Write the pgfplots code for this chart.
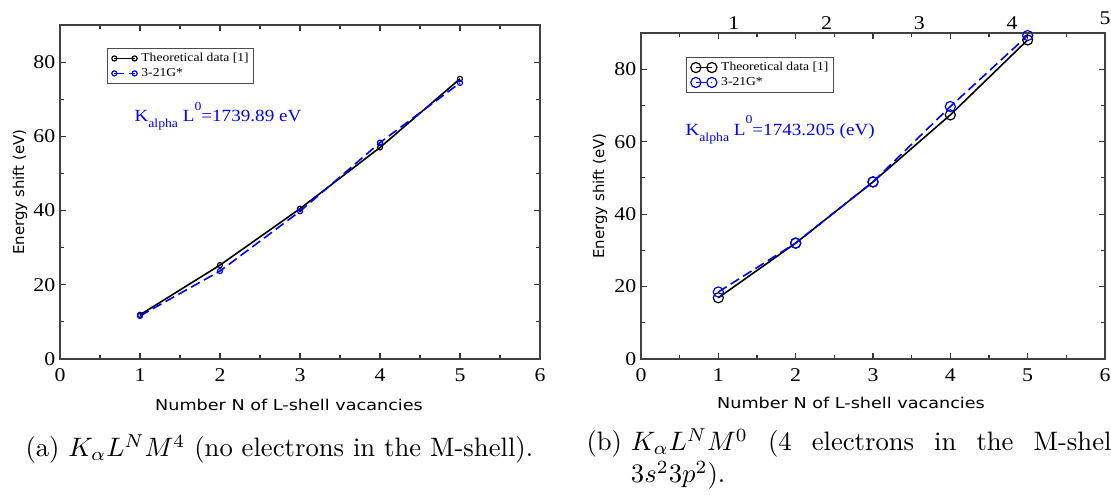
\documentclass[border=0pt]{standalone}
\usepackage{pgfplots}
\pgfplotsset{compat=1.18}
\usepackage{fontspec}
\newfontfamily\tnr[FakeStretch=1.12]{Liberation Serif}
\newfontfamily\dvs[FakeStretch=1.18]{DejaVu Sans}
\newfontfamily\dvsr{DejaVu Sans}
\definecolor{gblue}{RGB}{0,0,255}

\pgfplotstableread{
x y
1 11.9
2 25.3
3 40.5
4 57.0
5 75.5
}\theoA
\pgfplotstableread{
x y
1 11.6
2 23.7
3 39.8
4 58.3
5 74.4
}\calcA
\pgfplotstableread{
x y
1 16.9
2 32.0
3 48.9
4 67.4
5 88.1
}\theoB
\pgfplotstableread{
x y
1 18.5
2 32.0
3 48.9
4 69.7
5 89.3
}\calcB

\pgfplotsset{
  gstyle/.style={
    scale only axis, xmin=0, xmax=6, ymin=0, ymax=90,
    xtick={0,...,6}, ytick={0,20,...,80},
    minor x tick num=1, minor y tick num=1,
    major tick length=2.4pt, minor tick length=1.5pt,
    tick style={black!80, line width=0.4pt},
    axis line style={black!75, line width=0.5pt},
    ticklabel style={font=\tnr\fontsize{7.3}{8}\selectfont},
    /pgf/number format/assume math mode=true,
    yticklabel style={inner xsep=1.6pt},
    clip=false,
    legend cell align=left,
    legend style={draw=black!70, line width=0.4pt,
      font=\tnr\fontsize{4.55}{5.6}\selectfont,
      inner xsep=1.6pt, inner ysep=0.9pt, row sep=0pt, column sep=1.2pt,
      nodes={inner xsep=0.4pt, inner ysep=0.5pt, text height=3.4pt, text depth=1.2pt}},
  },
  theo/.style={black, line width=0.6pt, mark=o, mark options={solid, line width=0.45pt}},
  calc/.style={gblue, line width=0.6pt, dash pattern=on 3.7pt off 1.8pt, mark=o, mark options={solid, line width=0.45pt}},
}

\begin{document}
\begin{tikzpicture}
% ---------- left panel ----------
\begin{axis}[gstyle, at={(22.5pt,-134.625pt)}, anchor=south west,
  width=180pt, height=125.25pt,
  legend style={at={(axis description cs:0.098,0.931)}, anchor=north west},
  legend image code/.code={\draw[mark repeat=2, mark phase=1, #1] plot coordinates {(0pt,0pt) (3.8pt,0pt) (7.6pt,0pt)};},
  every axis plot/.append style={mark size=0.95pt}]
\addplot[theo] table[x=x,y=y] {\theoA};
\addlegendentry{Theoretical data [1]}
\addplot[calc] table[x=x,y=y] {\calcA};
\addlegendentry{3-21G*}
\node[anchor=base west, text=gblue, inner sep=0, font=\tnr\fontsize{6.4}{7}\selectfont]
  at (axis cs:0.925,63.9) {K\raisebox{-2.2pt}{\fontsize{4.6}{5}\selectfont alpha} L\raisebox{4.2pt}{\fontsize{4.6}{5}\selectfont 0}=1739.89 eV};
\end{axis}
% ---------- right panel ----------
\begin{axis}[gstyle, at={(240.375pt,-134.625pt)}, anchor=south west,
  width=174pt, height=122.25pt,
  legend style={at={(axis description cs:0.097,0.926)}, anchor=north west},
  legend image code/.code={\draw[mark repeat=2, mark phase=1, #1] plot coordinates {(0pt,0pt) (3pt,0pt) (6pt,0pt)};},
  every axis plot/.append style={mark size=1.9pt}]
\addplot[theo] table[x=x,y=y] {\theoB};
\addlegendentry{Theoretical data [1]}
\addplot[calc] table[x=x,y=y] {\calcB};
\addlegendentry{3-21G*}
\node[anchor=base west, text=gblue, inner sep=0, font=\tnr\fontsize{6.4}{7}\selectfont]
  at (axis cs:0.569,61.8) {K\raisebox{-2.2pt}{\fontsize{4.6}{5}\selectfont alpha} L\raisebox{4.2pt}{\fontsize{4.6}{5}\selectfont 0}=1743.205 (eV)};
\begin{scope}[every node/.style={anchor=base, inner sep=0, font=\tnr\fontsize{7.3}{8}\selectfont}]
\node[yshift=1.3pt] at (axis cs:1.2,90) {1};
\node[yshift=1.3pt] at (axis cs:2.4,90) {2};
\node[yshift=1.3pt] at (axis cs:3.6,90) {3};
\node[yshift=1.3pt] at (axis cs:4.8,90) {4};
\node[yshift=3.2pt] at (axis cs:6.0,90) {5};
\end{scope}
\end{axis}
\begin{scope}[x=0.375pt,y=-0.375pt]
% ---------- axis labels ----------
\node[font=\dvs\fontsize{5.6}{6}\selectfont] at (289,405) {Number N of L-shell vacancies};
\node[font=\dvs\fontsize{5.6}{6}\selectfont] at (851,403) {Number N of L-shell vacancies};
\node[rotate=90, font=\dvsr\fontsize{5.6}{6}\selectfont] at (20,192) {Energy shift (eV)};
\node[rotate=90, font=\dvsr\fontsize{5.6}{6}\selectfont] at (600,196) {Energy shift (eV)};
% ---------- captions ----------
\node[anchor=base west, inner sep=0, font=\fontsize{10}{12}\selectfont] at (25,457)
  {(a) $K_\alpha L^N M^4$ (no electrons in the M-shell).};
\node[anchor=base west, inner sep=0, font=\fontsize{10}{12}\selectfont] at (586,451)
  {(b)\ \parbox[t]{183pt}{$K_\alpha L^N M^0$ (4 electrons in the M-shell\linebreak $3s^2 3p^2$).}};
\pgfresetboundingbox
\path[use as bounding box] (0,0) rectangle (1111,495);
\end{scope}
\end{tikzpicture}
\end{document}
